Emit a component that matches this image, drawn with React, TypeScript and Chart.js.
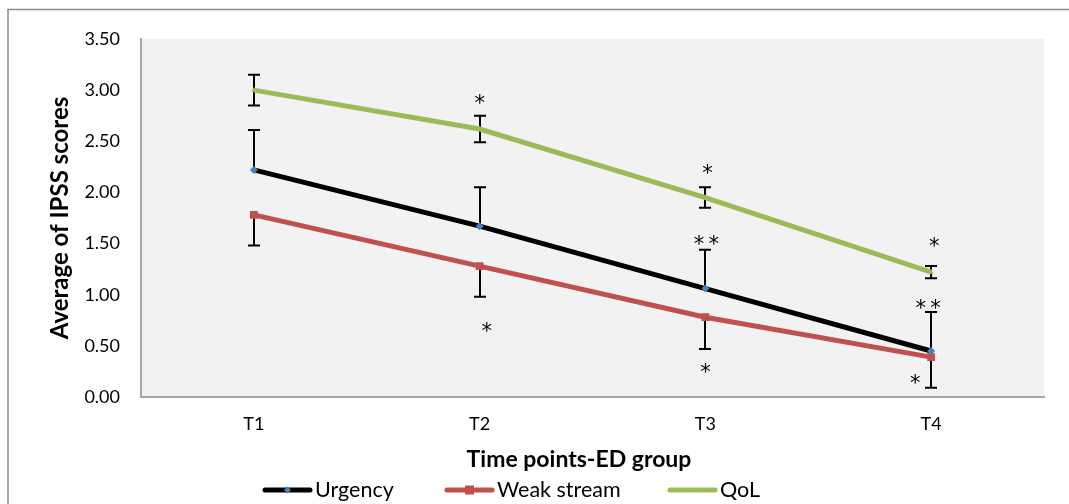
import React, { useEffect, useRef } from 'react';
import { Chart, registerables } from 'chart.js';

Chart.register(...registerables);

// ---------- data ----------
const categories = ['T1', 'T2', 'T3', 'T4'];

const urgency = [2.22, 1.67, 1.06, 0.45];
const urgencyErrUp = [0.39, 0.38, 0.38, 0.38];

const weakStream = [1.78, 1.28, 0.78, 0.39];
const weakStreamErrDown = [0.3, 0.3, 0.31, 0.3];

const qol = [3.0, 2.62, 1.95, 1.22];
const qolErr = [0.15, 0.13, 0.1, 0.06];

const yMin = 0;
const yMax = 3.5;
const yStep = 0.5;

const xTitle = 'Time points-ED group';
const yTitle = 'Average of IPSS scores';

// significance marks: category index, value level, text
const starCats = [1, 1, 2, 2, 2, 3, 3, 3];
const starValues = [2.92, 0.69, 2.24, 1.54, 0.29, 1.53, 0.92, 0.19];
const starTexts = ['*', '*', '*', '**', '*', '*', '**', '*'];
// ---------- style / layout ----------
const starNudgeX = [0, 7, 2, 1, 0, 3, -3, -16];
const legendX = [263, 445, 668];
const FONT = 'Lato, "Open Sans", sans-serif';
const STAR_FONT = '"DejaVu Sans", sans-serif';

const COLORS = {
  urgency: '#000000',
  urgencyMarker: '#4A7EBB',
  weak: '#C0504D',
  qol: '#9BBB59',
};

export default function App() {
  const ref = useRef<HTMLCanvasElement | null>(null);

  useEffect(() => {
    const canvas = ref.current;
    if (!canvas) return;

    const errorBars = [
      { data: urgency, up: urgencyErrUp, down: null as number[] | null },
      { data: weakStream, up: null as number[] | null, down: weakStreamErrDown },
      { data: qol, up: qolErr, down: qolErr },
    ];

    const decor = {
      id: 'decor',
      beforeDraw(chart: any) {
        const { ctx, chartArea } = chart;
        ctx.save();
        ctx.fillStyle = '#ffffff';
        ctx.fillRect(0, 0, chart.width, chart.height);
        // outer frame (left and top only visible)
        ctx.strokeStyle = '#8c8c8c';
        ctx.lineWidth = 1.5;
        ctx.beginPath();
        ctx.moveTo(8, chart.height + 2);
        ctx.lineTo(8, 9.5);
        ctx.lineTo(chart.width + 2, 9.5);
        ctx.stroke();
        // plot area background
        ctx.fillStyle = '#f2f2f2';
        ctx.fillRect(chartArea.left, chartArea.top, chartArea.right - chartArea.left, chartArea.bottom - chartArea.top);
        ctx.restore();
      },
      beforeDatasetsDraw(chart: any) {
        const { ctx } = chart;
        const xs = chart.scales.x;
        const ys = chart.scales.y;
        ctx.save();
        ctx.strokeStyle = '#000000';
        ctx.lineWidth = 2;
        const cap = 6;
        errorBars.forEach((eb) => {
          eb.data.forEach((v, i) => {
            const x = Math.round(xs.getPixelForValue(i));
            const hi = eb.up ? v + eb.up[i] : v;
            const lo = eb.down ? v - eb.down[i] : v;
            const yHi = ys.getPixelForValue(hi);
            const yLo = ys.getPixelForValue(lo);
            ctx.beginPath();
            ctx.moveTo(x, yHi);
            ctx.lineTo(x, yLo);
            if (eb.up) {
              ctx.moveTo(x - cap, yHi);
              ctx.lineTo(x + cap, yHi);
            }
            if (eb.down) {
              ctx.moveTo(x - cap, yLo);
              ctx.lineTo(x + cap, yLo);
            }
            ctx.stroke();
          });
        });
        ctx.restore();
      },
      afterDraw(chart: any) {
        const { ctx } = chart;
        const xs = chart.scales.x;
        const ys = chart.scales.y;
        ctx.save();
        // significance stars
        ctx.fillStyle = '#000000';
        ctx.font = `21px ${STAR_FONT}`;
        ctx.textAlign = 'center';
        ctx.textBaseline = 'alphabetic';
        starTexts.forEach((t, i) => {
          const x = xs.getPixelForValue(starCats[i]) + starNudgeX[i];
          const y = ys.getPixelForValue(starValues[i]);
          ctx.fillText(t.split('').join('\u2009'), x, y + 12);
        });
        // x axis title
        ctx.font = `bold 23px ${FONT}`;
        ctx.textBaseline = 'middle';
        ctx.fillText(xTitle, 579, 460);
        // legend
        const items = [
          { label: 'Urgency', color: COLORS.urgency, marker: 'diamond' },
          { label: 'Weak stream', color: COLORS.weak, marker: 'square' },
          { label: 'QoL', color: COLORS.qol, marker: 'tri' },
        ];
        const ly = 490;
        const sw = 49;
        items.forEach((it, i) => {
          const x0 = legendX[i];
          ctx.strokeStyle = it.color;
          ctx.lineWidth = 5;
          ctx.lineCap = 'round';
          ctx.beginPath();
          ctx.moveTo(x0 + 2, ly);
          ctx.lineTo(x0 + sw - 2, ly);
          ctx.stroke();
          const mx = x0 + sw / 2;
          if (it.marker === 'diamond') {
            ctx.fillStyle = COLORS.urgencyMarker;
            ctx.beginPath();
            ctx.moveTo(mx, ly - 3.5);
            ctx.lineTo(mx + 3.5, ly);
            ctx.lineTo(mx, ly + 3.5);
            ctx.lineTo(mx - 3.5, ly);
            ctx.closePath();
            ctx.fill();
          } else if (it.marker === 'square') {
            ctx.fillStyle = it.color;
            ctx.fillRect(mx - 4.5, ly - 4.5, 9, 9);
          }
          ctx.fillStyle = '#000000';
          ctx.font = `21.5px ${FONT}`;
          ctx.textAlign = 'left';
          ctx.textBaseline = 'middle';
          ctx.fillText(it.label, x0 + sw + 3, ly);
        });
        ctx.restore();
      },
    };

    const chart = new Chart(canvas, {
      type: 'line',
      data: {
        labels: categories,
        datasets: [
          {
            label: 'Urgency',
            data: urgency,
            borderColor: COLORS.urgency,
            backgroundColor: COLORS.urgencyMarker,
            borderWidth: 5,
            pointStyle: 'rectRot',
            pointRadius: 4,
            pointBorderWidth: 0,
            pointBackgroundColor: COLORS.urgencyMarker,
            tension: 0,
          },
          {
            label: 'Weak stream',
            data: weakStream,
            borderColor: COLORS.weak,
            backgroundColor: COLORS.weak,
            borderWidth: 5,
            pointStyle: 'rect',
            pointRadius: 5.5,
            pointBorderWidth: 0,
            pointBackgroundColor: COLORS.weak,
            tension: 0,
          },
          {
            label: 'QoL',
            data: qol,
            borderColor: COLORS.qol,
            backgroundColor: COLORS.qol,
            borderWidth: 5,
            pointStyle: 'triangle',
            pointRadius: 3,
            pointBorderWidth: 0,
            pointBackgroundColor: COLORS.qol,
            tension: 0,
          },
        ],
      },
      options: {
        animation: false,
        responsive: false,
        maintainAspectRatio: false,
        layout: { padding: { top: 39, right: 25, left: 0, bottom: 0 } },
        plugins: {
          legend: { display: false },
          tooltip: { enabled: false },
        },
        scales: {
          x: {
            type: 'category',
            offset: true,
            grid: { display: true, drawOnChartArea: false, drawTicks: false },
            border: { display: true, color: '#a6a6a6', width: 2 },
            ticks: { color: '#000', font: { family: FONT, size: 18 }, padding: 16 },
            afterFit: (s: any) => {
              s.height = 107;
            },
          },
          y: {
            min: yMin,
            max: yMax,
            grid: { display: true, drawOnChartArea: false, drawTicks: false },
            border: { display: true, color: '#a6a6a6', width: 2 },
            ticks: {
              stepSize: yStep,
              color: '#000',
              font: { family: FONT, size: 18 },
              padding: 21,
              callback: (v: any) => Number(v).toFixed(2),
            },
            title: {
              display: true,
              text: yTitle,
              color: '#000',
              font: { family: FONT, size: 24, weight: 'bold' },
              padding: { top: 46, bottom: 0 },
            },
            afterFit: (s: any) => {
              s.width = 141;
            },
          },
        },
      },
      plugins: [decor],
    });

    return () => chart.destroy();
  }, []);

  return (
    <div style={{ position: 'absolute', left: 0, top: 0, width: 1069, height: 504 }}>
      <canvas ref={ref} width={1069} height={504} style={{ display: 'block', width: 1069, height: 504 }} />
    </div>
  );
}
